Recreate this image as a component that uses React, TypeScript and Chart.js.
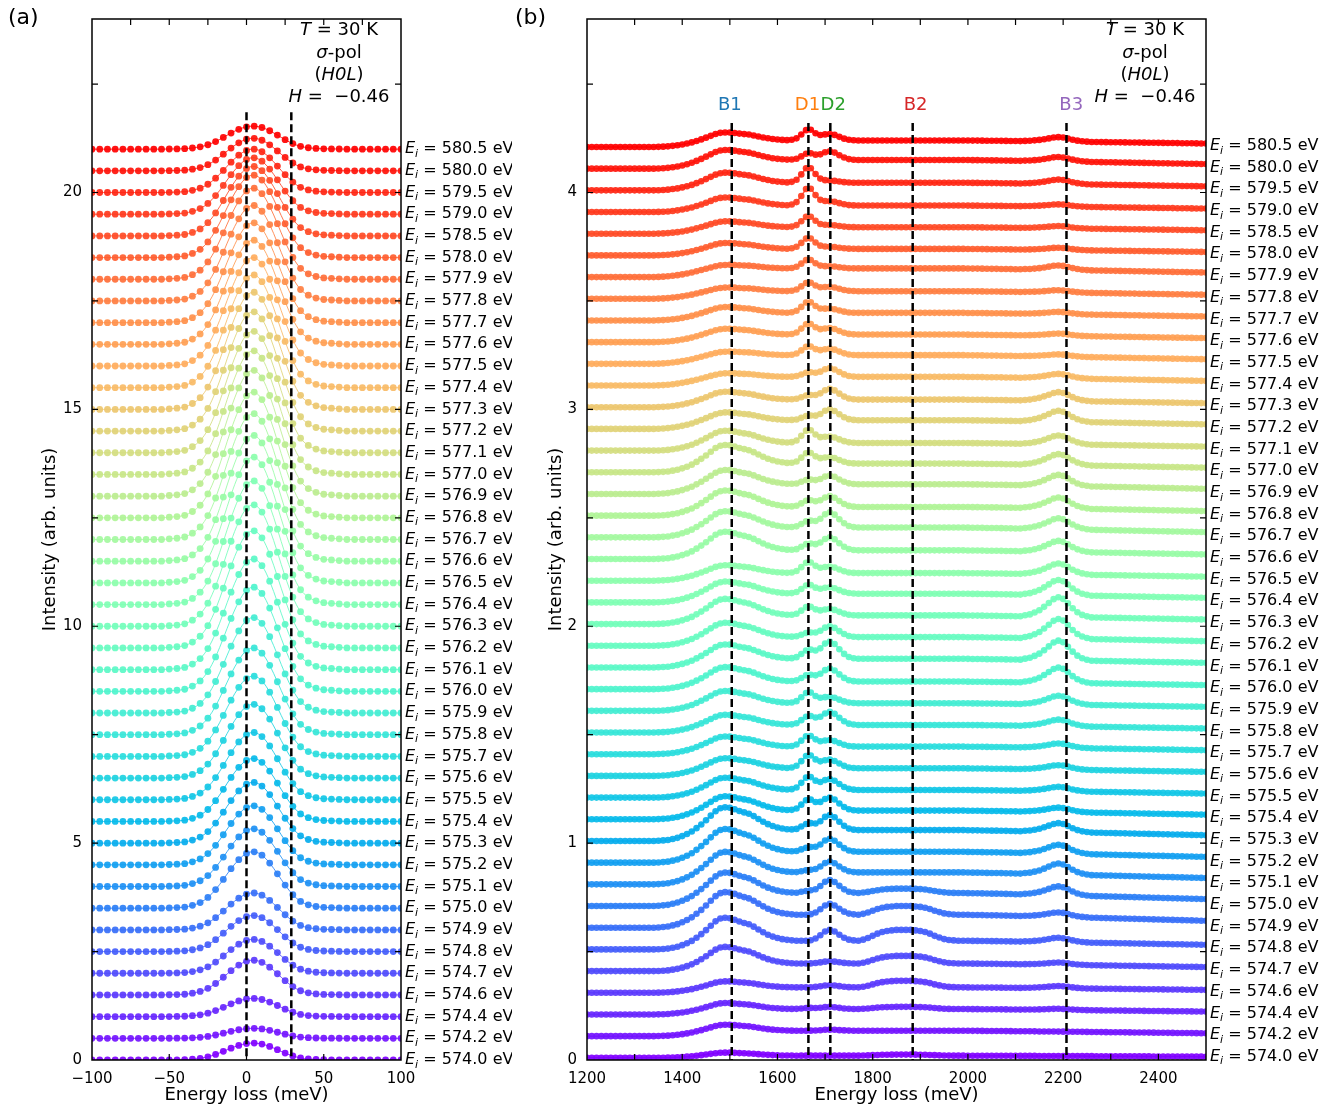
import React, { useEffect, useRef } from 'react';
import { Chart, registerables } from 'chart.js';
Chart.register(...registerables);

const FONT = '"DejaVu Sans", sans-serif';
Chart.defaults.font.family = FONT;
Chart.defaults.color = '#000';

// ---------- shared ----------
const EI = [574.0, 574.2, 574.4, 574.6, 574.7, 574.8, 574.9, 575.0, 575.1, 575.2, 575.3, 575.4, 575.5, 575.6, 575.7, 575.8, 575.9,
  576.0, 576.1, 576.2, 576.3, 576.4, 576.5, 576.6, 576.7, 576.8, 576.9, 577.0, 577.1, 577.2, 577.3, 577.4, 577.5, 577.6, 577.7, 577.8, 577.9,
  578.0, 578.5, 579.0, 579.5, 580.0, 580.5];

// ---------- panel (a): quasi-elastic region ----------
const A_X_START = -100;
const A_X_STEP = 5;
// normalised line shape at x = -100 ... 100 (step 5 meV)
const A_PROFILE = [0, 0, 0, 0, 0, 0, 0, 0, 0, 0,
  0.005, 0.01, 0.02, 0.05, 0.1, 0.19, 0.33, 0.51, 0.7, 0.86, 0.97, 1.0, 0.94, 0.8, 0.61, 0.41, 0.24, 0.12, 0.06, 0.03, 0.015, 0.01, 0.005,
  0, 0, 0, 0, 0, 0, 0, 0];
// peak height of each spectrum (arb. units)
const A_AMP = [0.39, 0.23, 0.42, 0.80, 0.78, 0.83, 0.85, 1.30, 1.33, 1.36, 1.40, 1.45, 1.55, 1.70, 1.85, 2.00, 2.20, 2.40, 2.55, 2.70,
  2.80, 2.85, 2.90, 2.90, 2.90, 2.90, 2.90, 2.85, 2.80, 2.75, 2.70, 2.60, 2.50, 2.40, 2.30, 2.20, 2.10, 1.90, 1.60, 1.30, 1.00, 0.75, 0.53];
const A_SPACING = 0.5;
const A_X_LABELS = [-100, -50, 0, 50, 100];
const A_Y_LABELS = [0, 5, 10, 15, 20];
const A_X_TOP_MARKS = [-75, -50, -25, 0, 25, 50, 75];
const A_X_BOTTOM_MARKS = [-50, 0, 50];
const A_Y_MARKS = [2.5, 5, 7.5, 10, 12.5, 15, 17.5, 20, 22.5];
const A_DASH = [0, 29];

// ---------- panel (b): 1200-2500 meV region ----------
const B_X_START = 1200;
const B_X_STEP = 10;
// continuum (step) shape, x = 1200 ... 2500 step 10
const BG_PROFILE = [
  0, 0, 0, 0, 0, 0, 0, 0, 0, 0,
  0, 0, 0, 0, 0, 0.02, 0.05, 0.09, 0.14, 0.2,
  0.27, 0.35, 0.43, 0.52, 0.6, 0.68, 0.75, 0.81, 0.86, 0.9,
  0.93, 0.95, 0.96, 0.96, 0.97, 0.97, 0.97, 0.98, 0.98, 0.98,
  0.98, 0.99, 0.99, 0.99, 0.99, 1, 1, 1, 1, 1,
  1, 1, 1, 1, 1, 1, 1, 1, 1, 1,
  1, 1, 1, 1, 1, 1, 1, 1, 1, 1,
  1, 1, 1, 1, 1, 1, 1, 1, 1, 1,
  0.99, 0.98, 0.98, 0.97, 0.96, 0.95, 0.95, 0.94, 0.93, 0.92,
  0.91, 0.9, 0.9, 0.89, 0.88, 0.87, 0.86, 0.85, 0.85, 0.84,
  0.83, 0.82, 0.81, 0.8, 0.79, 0.78, 0.77, 0.76, 0.75, 0.74,
  0.73, 0.72, 0.71, 0.7, 0.69, 0.68, 0.67, 0.66, 0.65, 0.64,
  0.63, 0.62, 0.61, 0.6, 0.59, 0.58, 0.57, 0.56, 0.55, 0.54,
  0.53];
const B1_START = 1380;
const B1_PROFILE = [0.02, 0.04, 0.08, 0.13, 0.2, 0.3, 0.42, 0.56, 0.72, 0.88, 0.98, 1.0, 0.97, 0.9, 0.82, 0.76, 0.7, 0.6, 0.48, 0.36, 0.26, 0.18, 0.12, 0.07, 0.04, 0.02, 0];
const D1_START = 1630;
const D1_PROFILE = [0.05, 0.2, 0.55, 0.95, 0.95, 0.55, 0.2, 0.05];
const D2_START = 1670;
const D2_PROFILE = [0.05, 0.2, 0.5, 0.85, 1.0, 0.85, 0.55, 0.28, 0.1, 0.03];
const B2_START = 1780;
const B2_PROFILE = [0.1, 0.25, 0.45, 0.65, 0.8, 0.9, 0.95, 1, 1, 1, 1, 0.95, 0.9, 0.8, 0.65, 0.45, 0.3, 0.15, 0.07, 0.03, 0];
const B3_START = 2120;
const B3_PROFILE = [0.05, 0.1, 0.2, 0.32, 0.5, 0.7, 0.9, 1, 0.92, 0.7, 0.45, 0.25, 0.12, 0.05, 0];

const BG_AMP = [0.01, 0.025, 0.025, 0.025, 0.035, 0.04, 0.06, 0.06, 0.055, 0.05, 0.05, 0.04, 0.035, 0.035, 0.035, 0.035, 0.035, 0.035,
  0.04, 0.04, 0.04, 0.04, 0.035, 0.04, 0.045, 0.04, 0.045, 0.04, 0.035, 0.04, 0.035, 0.04, 0.04, 0.035, 0.035, 0.035, 0.04,
  0.03, 0.03, 0.03, 0.035, 0.04, 0.03];
const B1_AMP = [0.015, 0.03, 0.03, 0.03, 0.08, 0.11, 0.11, 0.10, 0.10, 0.11, 0.11, 0.07, 0.06, 0.05, 0.05, 0.05, 0.06, 0.07, 0.07, 0.07,
  0.08, 0.06, 0.04, 0.09, 0.08, 0.08, 0.07, 0.09, 0.06, 0.04, 0.04, 0.02, 0.02, 0.03, 0.03, 0.02, 0.02, 0.03, 0.03, 0.04, 0.05, 0.05, 0.04];
const D1_AMP = [0, 0, 0.005, 0, 0, 0, 0, 0.01, 0.01, 0.02, 0.03, 0.05, 0.06, 0.06, 0.05, 0.04, 0.05, 0.03, 0.04, 0.02, 0.04, 0.04, 0.05,
  0.03, 0.03, 0.03, 0.02, 0.05, 0.06, 0.02, 0.02, 0.02, 0.04, 0.05, 0.05, 0.04, 0.04, 0.05, 0.05, 0.08, 0.07, 0.03, 0.05];
const D2_AMP = [0, 0.005, 0.01, 0.01, 0.01, 0.05, 0.05, 0.06, 0.05, 0.06, 0.07, 0.06, 0.05, 0.04, 0.03, 0.06, 0.03, 0.06, 0.08, 0.05,
  0.03, 0.03, 0.03, 0.06, 0.07, 0.05, 0.04, 0.03, 0.03, 0.05, 0.05, 0.04, 0.03, 0.03, 0.02, 0.02, 0.01, 0.01, 0.01, 0.02, 0.01, 0.04, 0.03];
const B2_AMP = [0.005, 0, 0.01, 0.03, 0.035, 0.05, 0.04, 0.02, 0, 0, 0, 0, 0, 0, 0, 0, 0, 0, 0, 0, 0, 0, 0, 0, 0, 0, 0, 0, 0, 0,
  0, 0, 0, 0, 0, 0, 0, 0, 0, 0, 0, 0, 0];
const B3_AMP = [0, 0, 0.005, 0.01, 0.01, 0.02, 0.02, 0.04, 0.05, 0.04, 0.04, 0.02, 0.02, 0.02, 0.02, 0.03, 0.04, 0.07, 0.09, 0.09,
  0.09, 0.07, 0.05, 0.05, 0.05, 0.05, 0.05, 0.05, 0.04, 0.05, 0.04, 0.02, 0.01, 0.01, 0.01, 0.01, 0.02, 0.01, 0.01, 0.01, 0.02, 0.02, 0.02];
const B_SPACING = 0.1;
const B_BASE = 0.01;
const B_X_LABELS = [1200, 1400, 1600, 1800, 2000, 2200, 2400];
const B_Y_LABELS = [0, 1, 2, 3, 4];
const B_X_MARKS = [1300, 1400, 1500, 1600, 1700, 1800, 1900, 2000, 2100, 2200, 2300, 2400];
const B_Y_MARKS = [0.5, 1, 1.5, 2, 2.5, 3, 3.5, 4, 4.5];
const B_FEATURES = ['B1', 'D1', 'D2', 'B2', 'B3'];
const B_FEATURE_X = [1504, 1665, 1711, 1884, 2207];
const B_FEATURE_LABEL_X = [1500, 1663, 1717, 1890, 2217];
const B_FEATURE_COLORS = ['#1f77b4', '#ff7f0e', '#2ca02c', '#d62728', '#9467bd'];

// ---------- helpers ----------
function rainbow(t: number) {
  const c = (v: number) => Math.round(Math.max(0, Math.min(1, v)) * 255);
  return [c(Math.abs(2 * t - 0.5)), c(Math.sin(Math.PI * t)), c(Math.cos((Math.PI * t) / 2))];
}
function colorFor(i: number, a = 1) {
  const [r, g, b] = rainbow(i / (EI.length - 1));
  return `rgba(${r},${g},${b},${a})`;
}
function win(start: number, prof: number[], x: number) {
  const k = Math.round((x - start) / B_X_STEP);
  return k >= 0 && k < prof.length ? prof[k] : 0;
}
const minusFmt = (v: number) => (v < 0 ? '\u2212' + Math.abs(v) : String(v));

type Seg = { t: string; it?: boolean; sub?: boolean };
function drawRich(ctx: CanvasRenderingContext2D, segs: Seg[], x: number, y: number, size: number, align: 'left' | 'center') {
  const fontOf = (s: Seg) => `${s.it ? 'italic ' : ''}${s.sub ? Math.round(size * 0.7) : size}px ${FONT}`;
  let w = 0;
  const ws = segs.map((s) => {
    ctx.font = fontOf(s);
    const m = ctx.measureText(s.t).width;
    w += m;
    return m;
  });
  let cx = align === 'center' ? x - w / 2 : x;
  ctx.textBaseline = 'middle';
  ctx.textAlign = 'left';
  segs.forEach((s, k) => {
    ctx.font = fontOf(s);
    ctx.fillText(s.t, cx, s.sub ? y + size * 0.3 : y);
    cx += ws[k];
  });
}

interface PanelCfg {
  xTop: number[];
  xBottom: number[];
  yMarks: number[];
  dashX: number[];
  dashTop: number;
  features?: { t: string; c: string; x: number }[];
  featureY?: number;
  annotX: number;
  panelLabel: string;
  panelLabelX: number;
  labelX: number;
  labelVals: number[];
  yTitleX: number;
}

function overlay(cfg: PanelCfg) {
  return {
    id: 'overlay',
    afterDraw(chart: any) {
      const { ctx, chartArea: a } = chart;
      const x = chart.scales.x;
      const y = chart.scales.y;
      ctx.save();
      // dashed reference lines
      ctx.strokeStyle = '#000';
      ctx.lineWidth = 2.5;
      ctx.setLineDash([8, 4]);
      for (const v of cfg.dashX) {
        const px = x.getPixelForValue(v);
        ctx.beginPath();
        ctx.moveTo(px, y.getPixelForValue(cfg.dashTop));
        ctx.lineTo(px, a.bottom);
        ctx.stroke();
      }
      ctx.setLineDash([]);
      // frame
      ctx.lineWidth = 1.5;
      ctx.strokeRect(a.left, a.top, a.right - a.left, a.bottom - a.top);
      // inward ticks
      const TL = 6;
      ctx.lineWidth = 1.2;
      ctx.beginPath();
      for (const v of cfg.xTop) {
        const px = x.getPixelForValue(v);
        ctx.moveTo(px, a.top);
        ctx.lineTo(px, a.top + TL);
      }
      for (const v of cfg.xBottom) {
        const px = x.getPixelForValue(v);
        ctx.moveTo(px, a.bottom);
        ctx.lineTo(px, a.bottom - TL);
      }
      for (const v of cfg.yMarks) {
        const py = y.getPixelForValue(v);
        ctx.moveTo(a.left, py);
        ctx.lineTo(a.left + TL, py);
        ctx.moveTo(a.right, py);
        ctx.lineTo(a.right - TL, py);
      }
      ctx.stroke();
      ctx.fillStyle = '#000';
      // feature labels
      if (cfg.features) {
        ctx.font = `18px ${FONT}`;
        ctx.textAlign = 'center';
        ctx.textBaseline = 'middle';
        for (const f of cfg.features) {
          ctx.fillStyle = f.c;
          ctx.fillText(f.t, x.getPixelForValue(f.x), y.getPixelForValue(cfg.featureY));
        }
        ctx.fillStyle = '#000';
      }
      // annotation block
      drawRich(ctx, [{ t: 'T', it: true }, { t: ' = 30 K' }], cfg.annotX, 30, 18, 'center');
      drawRich(ctx, [{ t: '\u03c3', it: true }, { t: '-pol' }], cfg.annotX, 53, 18, 'center');
      drawRich(ctx, [{ t: '(' }, { t: 'H0L', it: true }, { t: ')' }], cfg.annotX, 75, 18, 'center');
      drawRich(ctx, [{ t: 'H', it: true }, { t: ' =  \u22120.46' }], cfg.annotX, 97, 18, 'center');
      // spectrum labels
      EI.forEach((e, i) => {
        drawRich(ctx, [{ t: 'E', it: true }, { t: 'i', it: true, sub: true }, { t: ' = ' + e.toFixed(1) + ' eV' }],
          cfg.labelX, y.getPixelForValue(cfg.labelVals[i]), 16, 'left');
      });
      // axis titles
      ctx.font = `18px ${FONT}`;
      ctx.textAlign = 'center';
      ctx.textBaseline = 'middle';
      ctx.fillText('Energy loss (meV)', (a.left + a.right) / 2, 1095);
      ctx.save();
      ctx.translate(cfg.yTitleX, (a.top + a.bottom) / 2);
      ctx.rotate(-Math.PI / 2);
      ctx.fillText('Intensity (arb. units)', 0, 0);
      ctx.restore();
      // panel label
      ctx.font = `22px ${FONT}`;
      ctx.textAlign = 'left';
      ctx.fillText(cfg.panelLabel, cfg.panelLabelX, 18);
      ctx.restore();
    },
  };
}

function scaleOpts(min: number, max: number, labels: number[], fix: (s: any) => void, pad: number) {
  return {
    type: 'linear' as const,
    min,
    max,
    grid: { display: false, drawTicks: false },
    border: { display: false },
    ticks: { font: { family: FONT, size: 15 }, color: '#000', padding: pad, autoSkip: false, maxRotation: 0, callback: (v: any) => minusFmt(Number(v)) },
    afterBuildTicks: (s: any) => {
      s.ticks = labels.map((v) => ({ value: v }));
    },
    afterFit: fix,
  };
}

function buildA() {
  const datasets: any[] = [];
  for (let i = EI.length - 1; i >= 0; i--) {
    datasets.push({
      data: A_PROFILE.map((p, j) => ({ x: A_X_START + A_X_STEP * j, y: i * A_SPACING + A_AMP[i] * p })),
      showLine: true,
      borderColor: colorFor(i, 0.85),
      borderWidth: 1,
      tension: 0.35,
      pointRadius: 3.4,
      pointBorderWidth: 0,
      pointBackgroundColor: colorFor(i, 0.92),
    });
  }
  return datasets;
}

function buildB() {
  const datasets: any[] = [];
  for (let i = EI.length - 1; i >= 0; i--) {
    datasets.push({
      data: BG_PROFILE.map((bg, j) => {
        const x = B_X_START + B_X_STEP * j;
        const y = i * B_SPACING + B_BASE + BG_AMP[i] * bg + B1_AMP[i] * win(B1_START, B1_PROFILE, x) + D1_AMP[i] * win(D1_START, D1_PROFILE, x) +
          D2_AMP[i] * win(D2_START, D2_PROFILE, x) + B2_AMP[i] * win(B2_START, B2_PROFILE, x) + B3_AMP[i] * win(B3_START, B3_PROFILE, x);
        return { x, y };
      }),
      showLine: true,
      borderColor: colorFor(i, 0.85),
      borderWidth: 1.5,
      tension: 0,
      pointRadius: 3.3,
      pointBorderWidth: 0,
      pointBackgroundColor: colorFor(i, 0.92),
    });
  }
  return datasets;
}

const A_W = 512;
const B_LEFT = 512;
const B_W = 1337 - 512;
const H = 1111;

export default function App() {
  const refA = useRef<HTMLCanvasElement>(null);
  const refB = useRef<HTMLCanvasElement>(null);

  useEffect(() => {
    const common = {
      responsive: false,
      maintainAspectRatio: false,
      devicePixelRatio: 1,
      animation: false as const,
      events: [] as any[],
      plugins: { legend: { display: false }, tooltip: { enabled: false } },
    };
    const chartA = new Chart(refA.current as HTMLCanvasElement, {
      type: 'scatter',
      data: { datasets: buildA() },
      options: {
        ...common,
        layout: { padding: { left: 0, right: A_W - 401, top: 14, bottom: 0 } },
        scales: {
          x: scaleOpts(-100, 100, A_X_LABELS, (s: any) => { s.height = 51; }, 10),
          y: scaleOpts(0, 24, A_Y_LABELS, (s: any) => { s.width = 92; }, 10),
        },
      } as any,
      plugins: [overlay({
        xTop: A_X_TOP_MARKS, xBottom: A_X_BOTTOM_MARKS, yMarks: A_Y_MARKS, dashX: A_DASH, dashTop: 21.85,
        annotX: 339, panelLabel: '(a)', panelLabelX: 8, labelX: 405,
        labelVals: EI.map((_, i) => i * A_SPACING), yTitleX: 50,
      }) as any],
    });
    const chartB = new Chart(refB.current as HTMLCanvasElement, {
      type: 'scatter',
      data: { datasets: buildB() },
      options: {
        ...common,
        layout: { padding: { left: 0, right: 1337 - 1206, top: 14, bottom: 0 } },
        scales: {
          x: scaleOpts(1200, 2500, B_X_LABELS, (s: any) => { s.height = 51; }, 10),
          y: scaleOpts(0, 4.8, B_Y_LABELS, (s: any) => { s.width = 587 - B_LEFT; }, 10),
        },
      } as any,
      plugins: [overlay({
        xTop: B_X_MARKS, xBottom: B_X_MARKS, yMarks: B_Y_MARKS, dashX: B_FEATURE_X, dashTop: 4.32,
        features: B_FEATURES.map((t, k) => ({ t, c: B_FEATURE_COLORS[k], x: B_FEATURE_LABEL_X[k] })), featureY: 4.4,
        annotX: 1145 - B_LEFT, panelLabel: '(b)', panelLabelX: 3, labelX: 1210 - B_LEFT,
        labelVals: EI.map((_, i) => i * B_SPACING + 0.015), yTitleX: 556 - B_LEFT,
      }) as any],
    });
    return () => {
      chartA.destroy();
      chartB.destroy();
    };
  }, []);

  return (
    <div style={{ position: 'absolute', left: 0, top: 0, width: 1337, height: H, background: '#fff' }}>
      <canvas ref={refA} width={A_W} height={H} style={{ position: 'absolute', left: 0, top: 0, width: A_W, height: H }} />
      <canvas ref={refB} width={B_W} height={H} style={{ position: 'absolute', left: B_LEFT, top: 0, width: B_W, height: H }} />
    </div>
  );
}
